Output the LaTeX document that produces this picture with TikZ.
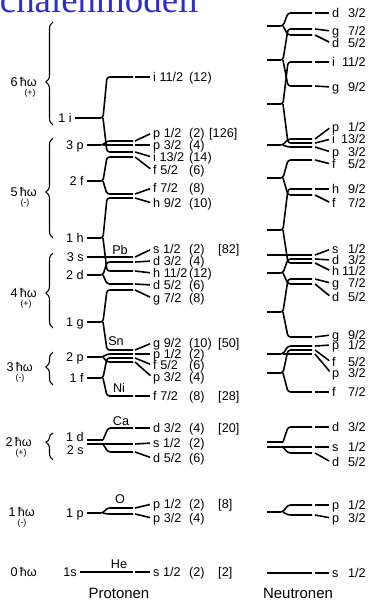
\documentclass[tikz,border=0pt]{standalone}
\usepackage{fontspec}
\setmainfont{Liberation Sans}
\newfontfamily\titlefont{Liberation Serif}
\usetikzlibrary{decorations.pathreplacing}
\definecolor{titleblue}{RGB}{45,45,205}

\tikzset{
  shellline/.style={line width=0.9pt},
  lab/.style={font=\fontsize{7.2}{9}\selectfont, inner sep=0.5pt, text height=5.2pt, text depth=0pt},
  parity/.style={font=\fontsize{5}{6}\selectfont, inner sep=0pt},
  shellbrace/.style={line width=0.6pt, decorate, decoration={brace, amplitude=4pt, aspect=#1}}
}

\begin{document}
\begin{tikzpicture}[x=0.2mm, y=-0.2mm]
\useasboundingbox (0,0) rectangle (371,601);

% Titel (oben abgeschnitten)
\node[anchor=base west, inner sep=0pt, text=titleblue, font=\titlefont\fontsize{21}{25}\selectfont] (title) at (-21,12) {Schalenmodell};

% Oszillatorschalen mit Klammern
\foreach \n/\ya/\yb/\yw/\pty/\xw/\xp in {6/22/125/82/+/38/30, 5/138/238/192/-/38/25,
    4/253/328/293/+/38/26, 3/352/385/367/-/34/20, 2/433/460/442/+/33/21} {
  \pgfmathsetmacro\asp{(\yb-\yw)/(\yb-\ya)}
  \node[lab, anchor=east] (hw\n) at (\xw,\yw) {\n\,ħω};
  \node[parity] (pa\n) at (\xp,\yw+11) {(\pty)};
  \draw[shellbrace=\asp] (53,\yb) -- (53,\ya);
}
\node[lab, anchor=east] (hw1) at (36,512) {1\,ħω};
\node[parity] (pa1) at (22,523) {(-)};
\node[lab, anchor=east] (hw0) at (38,572) {0\,ħω};

% Protonen: l-Niveaus und Aufspaltung
\foreach \xs/\ys/\yu/\yd/\nm [count=\k] in {75/118/77/152/1 i, 87/145/141/145/3 p,
    87/181/157/194/2 f, 87/238/198/271/1 h, 87/275/262/284/2 d, 87/322/290/350/1 g,
    87/357/354/362/2 p, 87/378/358/396/1 f, 87/513/508/514/1 p} {
  \node[lab, anchor=east] (pl\k) at (\xs-2,\ys) {\nm};
  \draw[shellline, rounded corners=1.5pt] (\xs,\ys) -- (103,\ys) -- (107,\yu) -- (133,\yu);
  \draw[shellline, rounded corners=1.5pt] (103,\ys) -- (107,\yd) -- (133,\yd);
}
\node[lab, anchor=east] (pl3s) at (85,257) {3 s};
\draw[shellline] (87,257) -- (133,257);
\node[lab, anchor=east] (pl1s) at (78,572) {1s};
\draw[shellline] (80,572) -- (133,572);
\node[lab, anchor=east] (pl1d) at (85,437) {1 d};
\node[lab, anchor=east] (pl2s) at (85,450) {2 s};
\draw[shellline] (87,440) -- (103,440);
\draw[shellline] (87,444) -- (133,444);
\draw[shellline, rounded corners=1.5pt] (103,440) -- (108,428) -- (133,428);
\draw[shellline, rounded corners=1.5pt] (103,444) -- (108,452) -- (133,452);

% Protonen: j-Niveaus
\foreach \yl/\yt/\st/\jn/\oc [count=\i] in {77/77/i/11/12, 141/133/p/1/2, 145/145/p/3/4,
    152/157/i/13/14, 157/170/f/5/6, 194/188/f/7/8, 198/203/h/9/10, 257/249/s/1/2,
    262/261/d/3/4, 271/273/h/11/12, 284/285/d/5/6, 290/298/g/7/8, 350/343/g/9/10,
    354/354/p/1/2, 358/365/f/5/6, 362/377/p/3/4, 396/396/f/7/8, 428/428/d/3/4,
    444/443/s/1/2, 452/458/d/5/6, 508/504/p/1/2, 514/518/p/3/4, 572/572/s/1/2} {
  \node[lab, anchor=west] (ps\i) at (152,\yt) {\st\ \jn/2};
  \node[lab, anchor=west] (po\i) at (188,\yt) {(\oc)};
  \draw[shellline, shorten >=1.2pt] (135,\yl) -- (ps\i.west);
}
% magische Zahlen
\foreach \ym/\mg/\xm in {133/126/208, 249/82/217, 343/50/217, 396/28/217, 428/20/217,
    504/8/217, 572/2/217}
  \node[lab, anchor=west] (mg\mg) at (\xm,\ym) {[\mg]};
% Kerne
\foreach \xn/\yn/\nn in {120/250/Pb, 116/341/Sn, 119/388/Ni, 121/421/Ca, 120/499/O, 119/564/He}
  \node[lab] (\nn) at (\xn,\yn) {\nn};

% Neutronen: l-Niveaus und Aufspaltung
\foreach \ys/\yu/\yd in {26/13/35, 60/29/86, 104/62/143, 145/139/147, 178/160/195,
    230/189/263, 273/259/284, 312/279/337, 354/346/354, 373/350/392, 512/505/515} {
  \draw[shellline, rounded corners=1.5pt] (267,\ys) -- (283,\ys) -- (288,\yu) -- (312,\yu);
  \draw[shellline, rounded corners=1.5pt] (283,\ys) -- (288,\yd) -- (312,\yd);
}
\draw[shellline] (267,255) -- (312,255);
\draw[shellline] (267,573) -- (312,573);
\draw[shellline] (267,442) -- (283,442);
\draw[shellline] (267,447) -- (312,447);
\draw[shellline, rounded corners=1.5pt] (283,442) -- (288,427) -- (312,427);
\draw[shellline, rounded corners=1.5pt] (283,447) -- (288,453) -- (312,453);

% Neutronen: j-Niveaus
\foreach \yl/\yt/\st/\jn [count=\i] in {13/13/d/3, 29/31/g/7, 35/43/d/5, 62/62/i/11,
    86/87/g/9, 139/127/p/1, 143/139/i/13, 147/152/p/3, 160/164/f/5, 189/189/h/9,
    195/203/f/7, 255/249/s/1, 259/260/d/3, 263/271/h/11, 279/283/g/7, 284/297/d/5,
    337/335/g/9, 346/345/p/1, 350/362/f/5, 354/373/p/3, 392/392/f/7, 427/427/d/3,
    447/447/s/1, 453/462/d/5, 505/505/p/1, 515/518/p/3, 573/573/s/1} {
  \node[lab, anchor=west] (ns\i) at (331,\yt) {\st};
  \node[lab, anchor=east] (nj\i) at (367,\yt) {\jn/2};
  \draw[shellline, shorten >=1.2pt] (315,\yl) -- (ns\i.west);
}

\node[lab, font=\fontsize{8.5}{10}\selectfont] (prot) at (119,594) {Protonen};
\node[lab, font=\fontsize{8.5}{10}\selectfont] (neut) at (298,594) {Neutronen};
\end{tikzpicture}
\end{document}
